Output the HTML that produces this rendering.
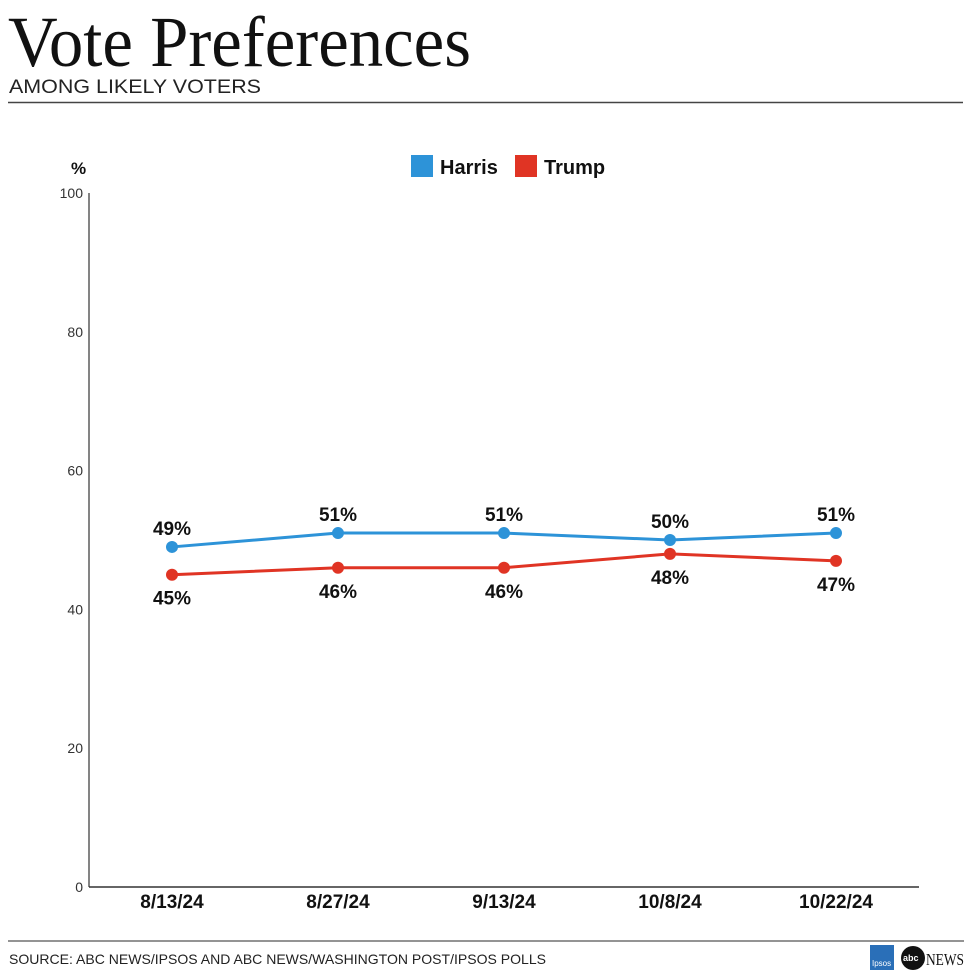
<!DOCTYPE html>
<html><head><meta charset="utf-8"><style>
html,body{margin:0;padding:0;background:#fff;width:968px;height:970px;overflow:hidden}
svg{display:block}
</style></head><body>
<svg id="chart" width="968" height="970" xmlns="http://www.w3.org/2000/svg">
<text x="8" y="66" font-family="Liberation Serif, serif" font-size="72" textLength="463" lengthAdjust="spacingAndGlyphs" fill="#111">Vote Preferences</text>
<text x="9" y="93" font-family="Liberation Sans, sans-serif" font-size="19" textLength="252" lengthAdjust="spacingAndGlyphs" fill="#222">AMONG LIKELY VOTERS</text>
<line x1="8" y1="102.5" x2="963" y2="102.5" stroke="#444" stroke-width="1.5"/>
<g>
<rect x="411" y="155" width="22" height="22" fill="#2d93d8"/>
<text x="440" y="174" font-family="Liberation Sans, sans-serif" font-weight="bold" font-size="20" fill="#111">Harris</text>
<rect x="515" y="155" width="22" height="22" fill="#e03424"/>
<text x="544" y="174" font-family="Liberation Sans, sans-serif" font-weight="bold" font-size="20" fill="#111">Trump</text>
</g>
<text x="71" y="174" font-family="Liberation Sans, sans-serif" font-weight="bold" font-size="17" fill="#111">%</text>
<g id="axes"></g>
<g id="marks"></g>
<line x1="8" y1="941" x2="964" y2="941" stroke="#555" stroke-width="1.2"/>
<text x="9" y="964" font-family="Liberation Sans, sans-serif" font-size="14" textLength="537" lengthAdjust="spacingAndGlyphs" fill="#222">SOURCE: ABC NEWS/IPSOS AND ABC NEWS/WASHINGTON POST/IPSOS POLLS</text>
<g>
<rect x="870" y="945" width="24" height="25" fill="#2a6fb8"/>
<text x="872" y="966" font-family="Liberation Sans, sans-serif" font-size="8" fill="#fff">Ipsos</text>
</g>
<g>
<circle cx="913" cy="958" r="12" fill="#111"/>
<text x="903" y="961" font-family="Liberation Sans, sans-serif" font-weight="bold" font-size="9" fill="#fff">abc</text>
<text x="926" y="965" font-family="Liberation Serif, serif" font-size="17" textLength="38" lengthAdjust="spacingAndGlyphs" fill="#111">NEWS</text>
</g>
</svg>
<script>
const categories = ["8/13/24","8/27/24","9/13/24","10/8/24","10/22/24"];
const harrisValues = [49,51,51,50,51];
const trumpValues = [45,46,46,48,47];
const yTicks = [0,20,40,60,80,100];

const NS="http://www.w3.org/2000/svg";
const x0=89, x1=919, yTop=193, yBot=887;
function xPos(i){return 172+i*166;}
function yPos(v){return yBot-(v/100)*(yBot-yTop);}
function mk(tag,attrs,parent,txt){const e=document.createElementNS(NS,tag);for(const k in attrs)e.setAttribute(k,attrs[k]);if(txt!==undefined)e.textContent=txt;parent.appendChild(e);return e;}
const axes=document.getElementById('axes'), marks=document.getElementById('marks');
let l=mk('line',{x1:x0,y1:yTop,x2:x0,y2:yBot,stroke:'#333','stroke-width':1.2},axes);


l=mk('line',{x1:x0,y1:yBot,x2:x1,y2:yBot,stroke:'#333','stroke-width':1.5},axes);


yTicks.forEach(t=>{const e=mk('text',{x:83,y:yPos(t)+5,'text-anchor':'end','font-family':'Liberation Sans, sans-serif','font-size':14,fill:'#333'},axes,String(t));

});
categories.forEach((c,i)=>{const e=mk('text',{x:xPos(i),y:908,'text-anchor':'middle','font-family':'Liberation Sans, sans-serif','font-weight':'bold','font-size':19,fill:'#111'},axes,c);

});
function series(vals,color,name,above){
  const p=mk('polyline',{points:vals.map((v,i)=>xPos(i)+','+yPos(v)).join(' '),fill:'none',stroke:color,'stroke-width':3},marks);
  
  
  vals.forEach((v,i)=>{
    const c=mk('circle',{cx:xPos(i),cy:yPos(v),r:6,fill:color},marks);
    
    
    const t=mk('text',{x:xPos(i),y:above?yPos(v)-12:yPos(v)+30,'text-anchor':'middle','font-family':'Liberation Sans, sans-serif','font-weight':'bold','font-size':19,fill:'#111'},marks,v+'%');
    
    
  });
}
series(harrisValues,'#2d93d8','harris',true);
series(trumpValues,'#e03424','trump',false);
</script>
</body></html>
